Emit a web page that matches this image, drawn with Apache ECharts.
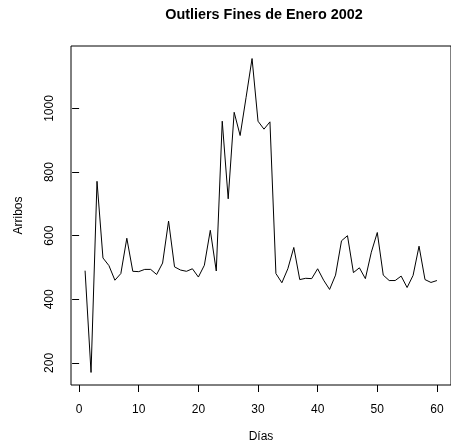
<!DOCTYPE html>
<html>
<head>
<meta charset="utf-8">
<title>Outliers Fines de Enero 2002</title>
<script src="https://cdn.jsdelivr.net/npm/echarts@6/dist/echarts.min.js"></script>
<style>
  html, body { margin: 0; padding: 0; background: #ffffff; }
  #chart { width: 451px; height: 448px; }
</style>
</head>
<body>
<div id="chart"></div>
<script>
// Daily arrivals (Arribos) per day (Días)
const days = [1, 2, 3, 4, 5, 6, 7, 8, 9, 10, 11, 12, 13, 14, 15, 16, 17, 18, 19, 20,
  21, 22, 23, 24, 25, 26, 27, 28, 29, 30, 31, 32, 33, 34, 35, 36, 37, 38, 39, 40,
  41, 42, 43, 44, 45, 46, 47, 48, 49, 50, 51, 52, 53, 54, 55, 56, 57, 58, 59, 60];
const arribos = [490, 170, 771, 530, 506, 460, 481, 592, 488, 487,
  494, 494, 478, 514, 646, 502, 492, 488, 496, 470,
  507, 617, 489, 960, 716, 988, 915, 1035, 1157, 960,
  935, 958, 481, 452, 496, 563, 462, 466, 465, 496,
  460, 431, 476, 584, 600, 484, 499, 465, 548, 610,
  476, 459, 459, 473, 437, 475, 567, 462, 453, 459];

// Axis tick positions
const xTicks = [0, 10, 20, 30, 40, 50, 60];
const yTicks = [200, 400, 600, 800, 1000];

const FONT = "'Liberation Sans', Arial, Helvetica, sans-serif";

const chart = echarts.init(document.getElementById('chart'), null, { renderer: 'canvas' });

const series = days.map((d, i) => [d, arribos[i]]);

chart.setOption({
  animation: false,
  backgroundColor: '#ffffff',
  title: {
    text: 'Outliers Fines de Enero 2002',
    left: 264,
    textAlign: 'center',
    top: 8,
    padding: 0,
    textStyle: { fontFamily: FONT, fontSize: 14.4, fontWeight: 'bold', color: '#000' }
  },
  grid: {
    left: 71,
    top: 46,
    width: 386,
    height: 339,
    show: true,
    borderColor: '#000',
    borderWidth: 1,
    backgroundColor: 'transparent'
  },
  xAxis: {
    type: 'value',
    min: -1.36,
    max: 62.36,
    name: 'Días',
    nameLocation: 'middle',
    nameGap: 46,
    nameTextStyle: { fontFamily: FONT, fontSize: 12, color: '#000' },
    axisLine: { show: false },
    splitLine: { show: false },
    axisTick: {
      show: true, inside: false, length: 7,
      customValues: xTicks,
      lineStyle: { color: '#000', width: 1 }
    },
    axisLabel: {
      show: true, margin: 19,
      customValues: xTicks,
      formatter: (v) => String(v),
      fontFamily: FONT, fontSize: 12, color: '#000'
    }
  },
  yAxis: {
    type: 'value',
    min: 130.5,
    max: 1196.5,
    name: 'Arribos',
    nameLocation: 'middle',
    nameGap: 46,
    nameTextStyle: { fontFamily: FONT, fontSize: 12, color: '#000' },
    axisLine: { show: false },
    splitLine: { show: false },
    axisTick: {
      show: true, inside: false, length: 7,
      customValues: yTicks,
      lineStyle: { color: '#000', width: 1 }
    },
    axisLabel: {
      show: true, margin: 15, rotate: 90,
      customValues: yTicks,
      formatter: (v) => String(v),
      fontFamily: FONT, fontSize: 12, color: '#000'
    }
  },
  series: [{
    type: 'line',
    data: series,
    symbol: 'none',
    lineStyle: { color: '#000', width: 1 },
    clip: false
  }]
});
</script>
</body>
</html>
